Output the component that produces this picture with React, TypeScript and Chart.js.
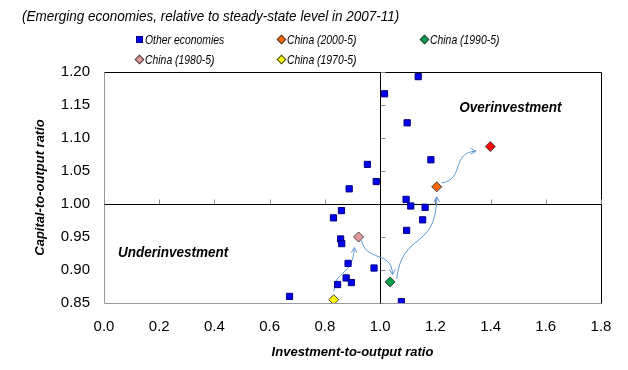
import { useEffect, useRef } from "react";
import { Chart, registerables } from "chart.js";

Chart.register(...registerables);

// ---------- data ----------
const otherX = [1.138, 1.016, 1.098, 1.184, 0.954, 0.888, 0.986, 1.094, 1.111, 1.163, 0.860, 0.831, 1.154, 1.096, 0.857, 0.861, 0.884, 0.978, 0.877, 0.896, 0.846, 0.672, 1.077];
const otherY = [1.193, 1.167, 1.123, 1.067, 1.060, 1.023, 1.034, 1.007, 0.997, 0.995, 0.990, 0.979, 0.976, 0.960, 0.947, 0.940, 0.910, 0.903, 0.888, 0.881, 0.878, 0.860, 0.852];

const chinaLabels = ["China (2000-5)", "China (1990-5)", "China (1980-5)", "China (1970-5)", "China (latest)"];
const chinaX = [1.205, 1.036, 0.922, 0.832, 1.399];
const chinaY = [1.026, 0.882, 0.950, 0.855, 1.087];
const chinaColors = ["#ff6600", "#00a04a", "#e8999a", "#ffff00", "#ff0000"];

const xTickValues = [0, 0.2, 0.4, 0.6, 0.8, 1.0, 1.2, 1.4, 1.6, 1.8];
const yTickValues = [0.85, 0.9, 0.95, 1.0, 1.05, 1.1, 1.15, 1.2];

// curved arrows (cubic bezier in data units: start, control1, control2, end)
const arrow1970to1980 = [[0.833, 0.868], [0.838, 0.903], [0.900, 0.888], [0.907, 0.934]];
const arrow1980to1990 = [[0.933, 0.945], [0.946, 0.912], [1.044, 0.930], [1.045, 0.893]];
const arrow1990to2000 = [[1.060, 0.887], [1.081, 0.960], [1.204, 0.929], [1.205, 1.011]];
const arrow2000toLatest = [[1.223, 1.032], [1.305, 1.036], [1.258, 1.079], [1.347, 1.080]];
const arrows = [arrow1970to1980, arrow1980to1990, arrow1990to2000, arrow2000toLatest];

const quadrantLabels = [
  { text: "Overinvestment", x: 1.287, y: 1.146 },
  { text: "Underinvestment", x: 0.051, y: 0.926 },
];

const titleText = "(Emerging economies, relative to steady-state level in 2007-11)";
const xTitle = "Investment-to-output ratio";
const yTitle = "Capital-to-output ratio";

const FONT = "'Liberation Sans', Arial, sans-serif";

const overlayPlugin = {
  id: "overlay",
  beforeDatasetsDraw(chart: any) {
    const { ctx, chartArea: a, scales } = chart;
    const xs = scales.x;
    const ys = scales.y;
    const line = (x1: number, y1: number, x2: number, y2: number) => {
      ctx.beginPath();
      ctx.moveTo(x1, y1);
      ctx.lineTo(x2, y2);
      ctx.stroke();
    };
    ctx.save();
    ctx.lineWidth = 1;
    const L = Math.round(a.left) + 0.5;
    const R = Math.round(a.right) + 0.5;
    const T = Math.round(a.top) + 0.5;
    const B = Math.round(a.bottom) + 0.5;
    ctx.strokeStyle = "#9a9a9a";
    line(L, T, L, B);
    line(L, B, R, B);
    ctx.strokeStyle = "#000";
    line(L, T, R, T);
    line(R, T, R, B);

    const cx = Math.round(xs.getPixelForValue(1)) + 0.5;
    const cy = Math.round(ys.getPixelForValue(1)) + 0.5;
    ctx.strokeStyle = "#8c8c8c";
    xTickValues.forEach((v) => {
      const px = Math.round(xs.getPixelForValue(v)) + 0.5;
      line(px, cy - 5, px, cy);
    });
    yTickValues.forEach((v) => {
      const py = Math.round(ys.getPixelForValue(v)) + 0.5;
      line(cx, py, cx + 5, py);
    });
    ctx.strokeStyle = "#000";
    line(cx, T, cx, B);
    line(L, cy, R, cy);

    // arrows
    ctx.strokeStyle = "#5b9bd5";
    ctx.lineWidth = 1;
    arrows.forEach((pts) => {
      const p = pts.map(([dx, dy]) => [xs.getPixelForValue(dx), ys.getPixelForValue(dy)]);
      ctx.beginPath();
      ctx.moveTo(p[0][0], p[0][1]);
      ctx.bezierCurveTo(p[1][0], p[1][1], p[2][0], p[2][1], p[3][0], p[3][1]);
      ctx.stroke();
      const ang = Math.atan2(p[3][1] - p[2][1], p[3][0] - p[2][0]);
      const len = 6;
      ctx.beginPath();
      ctx.moveTo(p[3][0] - len * Math.cos(ang - 0.5), p[3][1] - len * Math.sin(ang - 0.5));
      ctx.lineTo(p[3][0], p[3][1]);
      ctx.lineTo(p[3][0] - len * Math.cos(ang + 0.5), p[3][1] - len * Math.sin(ang + 0.5));
      ctx.stroke();
    });
    ctx.restore();
  },
  afterDatasetsDraw(chart: any) {
    const { ctx, scales } = chart;
    ctx.save();
    ctx.fillStyle = "#000";
    ctx.font = `italic bold 15px ${FONT}`;
    ctx.textBaseline = "middle";
    ctx.textAlign = "left";
    quadrantLabels.forEach((q) => {
      const px = scales.x.getPixelForValue(q.x);
      const py = scales.y.getPixelForValue(q.y);
      ctx.save();
      ctx.translate(px, py);
      ctx.scale(0.9, 1);
      ctx.fillText(q.text, 0, 0);
      ctx.restore();
    });
    ctx.restore();
  },
};

function Marker({ color, shape }: { color: string; shape: string }) {
  const base: any = {
    position: "absolute",
    left: -9,
    top: 5,
    width: 5,
    height: 5,
  };
  if (shape === "square") {
    return <span style={{ ...base, background: "#0000f0", border: "1px solid #000080" }} />;
  }
  return (
    <span style={{ ...base, background: color, border: "1px solid #404040", transform: "rotate(45deg)" }} />
  );
}

export default function App() {
  const ref = useRef<HTMLCanvasElement | null>(null);

  useEffect(() => {
    if (!ref.current) return;
    const chinaSets = chinaLabels.map((lab, i) => ({
      label: lab,
      data: [{ x: chinaX[i], y: chinaY[i] }],
      pointStyle: "rectRot",
      pointRadius: 5,
      backgroundColor: chinaColors[i],
      borderColor: "#404040",
      borderWidth: 1,
    }));
    const chart = new Chart(ref.current, {
      type: "scatter",
      data: {
        datasets: [
          {
            label: "Other economies",
            data: otherX.map((x, i) => ({ x, y: otherY[i] })),
            pointStyle: "rect",
            pointRadius: 4.4,
            backgroundColor: "#0000f0",
            borderColor: "#000080",
            borderWidth: 1,
          },
          ...chinaSets,
        ],
      },
      options: {
        responsive: false,
        animation: false,
        layout: { padding: { left: 25, right: 27, top: 72, bottom: 0 } },
        plugins: { legend: { display: false }, tooltip: { enabled: false } },
        scales: {
          x: {
            type: "linear",
            min: 0,
            max: 1.8,
            afterFit: (s: any) => {
              s.height = 67;
            },
            afterBuildTicks: (s: any) => {
              s.ticks = xTickValues.map((v) => ({ value: v }));
            },
            ticks: {
              callback: (v: any) => Number(v).toFixed(1),
              color: "#000",
              font: { family: FONT, size: 15 },
              padding: 15,
              maxRotation: 0,
            },
            grid: { display: false, drawTicks: false },
            border: { display: false },
            title: {
              display: true,
              text: xTitle,
              color: "#000",
              font: { family: FONT, size: 13, style: "italic", weight: "bold" },
              padding: { top: 0, bottom: 10 },
            },
          },
          y: {
            type: "linear",
            min: 0.85,
            max: 1.2,
            afterFit: (s: any) => {
              s.width = 79;
            },
            afterBuildTicks: (s: any) => {
              s.ticks = yTickValues.map((v) => ({ value: v }));
            },
            ticks: {
              callback: (v: any) => Number(v).toFixed(2),
              color: "#000",
              font: { family: FONT, size: 15 },
              padding: 14,
            },
            grid: { display: false, drawTicks: false },
            border: { display: false },
            title: {
              display: true,
              text: yTitle,
              color: "#000",
              font: { family: FONT, size: 13, style: "italic", weight: "bold" },
              padding: { top: 8, bottom: 0 },
            },
          },
        },
      },
      plugins: [overlayPlugin],
    } as any);
    return () => chart.destroy();
  }, []);

  const legendItems = [
    { text: "Other economies", shape: "square", color: "#0000f0", left: 145, top: 31 },
    { text: chinaLabels[0], shape: "diamond", color: chinaColors[0], left: 287, top: 31 },
    { text: chinaLabels[1], shape: "diamond", color: chinaColors[1], left: 430, top: 31 },
    { text: chinaLabels[2], shape: "diamond", color: chinaColors[2], left: 145, top: 51 },
    { text: chinaLabels[3], shape: "diamond", color: chinaColors[3], left: 287, top: 51 },
  ];

  return (
    <div style={{ position: "absolute", left: 0, top: 0, width: 628, height: 370, background: "#fff", fontFamily: FONT }}>
      <canvas ref={ref} width={628} height={370} style={{ position: "absolute", left: 0, top: 0 }} />
      <div
        style={{
          position: "absolute",
          left: 22,
          top: 7,
          fontSize: 15,
          fontStyle: "italic",
          color: "#000",
          whiteSpace: "nowrap",
          lineHeight: "18px",
          transform: "scaleX(0.9)",
          transformOrigin: "left center",
        }}
      >
        {titleText}
      </div>
      {legendItems.map((it, i) => (
        <div
          key={i}
          style={{
            position: "absolute",
            left: it.left,
            top: it.top,
            lineHeight: "15px",
            color: "#000",
            whiteSpace: "nowrap",
          }}
        >
          <Marker color={it.color} shape={it.shape} />
          <span
            style={{
              display: "inline-block",
              fontSize: 13,
              fontStyle: "italic",
              transform: "scaleX(0.8)",
              transformOrigin: "left center",
            }}
          >
            {it.text}
          </span>
        </div>
      ))}
    </div>
  );
}
